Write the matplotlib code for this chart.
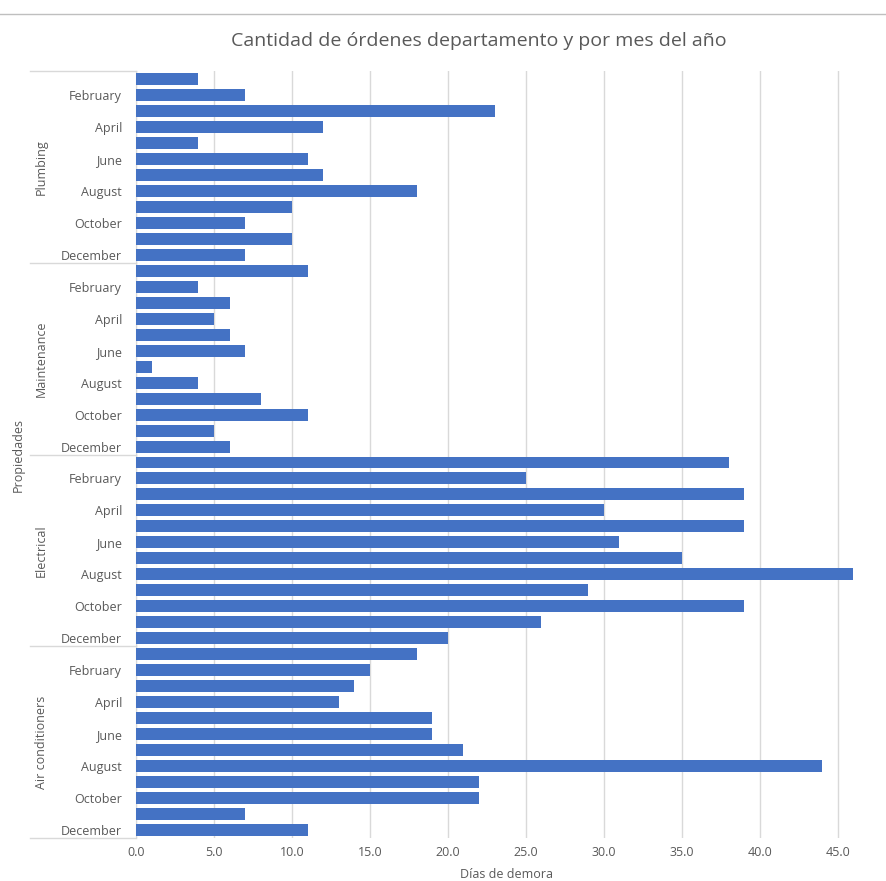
import matplotlib.pyplot as plt
import matplotlib.transforms as mtransforms

plt.rcParams['font.family'] = ['Open Sans', 'DejaVu Sans']

months = ['January', 'February', 'March', 'April', 'May', 'June', 'July',
          'August', 'September', 'October', 'November', 'December']
departments = ['Plumbing', 'Maintenance', 'Electrical', 'Air conditioners']
plumbing = [4, 7, 23, 12, 4, 11, 12, 18, 10, 7, 10, 7]
maintenance = [11, 4, 6, 5, 6, 7, 1, 4, 8, 11, 5, 6]
electrical = [38, 25, 39, 30, 39, 31, 35, 46, 29, 39, 26, 20]
air_conditioners = [18, 15, 14, 13, 19, 19, 21, 44, 22, 22, 7, 11]
xticks = [0, 5, 10, 15, 20, 25, 30, 35, 40, 45]

values = plumbing + maintenance + electrical + air_conditioners
labels = months * 4
ypos = list(range(len(values)))

text_col = '#595959'
fig = plt.figure(figsize=(8.86, 8.81), dpi=100)
ax = fig.add_axes([0.1535, 0.0488, 0.836, 0.8706])

ax.barh(ypos, values, height=0.75, color='#4472C4', zorder=3)
ax.set_ylim(len(values) - 0.5, -0.5)
ax.set_xlim(0, 47.5)
ax.set_xticks(xticks)
ax.set_xticklabels([f'{t:.1f}' for t in xticks], color=text_col, fontsize=9)
ax.grid(axis='x', color='#D9D9D9', linewidth=1, zorder=0)
ax.set_yticks(ypos[1::2])
ax.set_yticklabels(labels[1::2], color=text_col, fontsize=9)
ax.tick_params(axis='y', length=0, pad=10)
ax.tick_params(axis='x', length=0, pad=6)
for s in ['top', 'right', 'bottom']:
    ax.spines[s].set_visible(False)
ax.spines['left'].set_color('#D9D9D9')

trans = mtransforms.blended_transform_factory(ax.transAxes, ax.transData)
for i, dep in enumerate(departments):
    ax.plot([-0.143, 0], [i * 12 - 0.5] * 2, color='#D9D9D9', lw=1,
            transform=trans, clip_on=False)
    ax.text(-0.128, i * 12 + 5.5, dep, rotation=90, ha='center', va='center',
            color=text_col, fontsize=9, transform=trans)
ax.plot([-0.143, 0], [len(values) - 0.5] * 2, color='#D9D9D9', lw=1,
        transform=trans, clip_on=False)

ax.text(-0.159, 23.5, 'Propiedades', rotation=90, ha='center', va='center',
        color=text_col, fontsize=9, transform=trans)

ax.set_xlabel('Días de demora', color=text_col, fontsize=9, labelpad=6)
fig.text(0.54, 0.953, 'Cantidad de órdenes departamento y por mes del año',
         ha='center', va='center', color=text_col, fontsize=14)
fig.add_artist(plt.Line2D([0, 1], [1 - 14 / 881] * 2, color='#BFBFBF', lw=1))

fig.savefig('out.png', dpi=100)
